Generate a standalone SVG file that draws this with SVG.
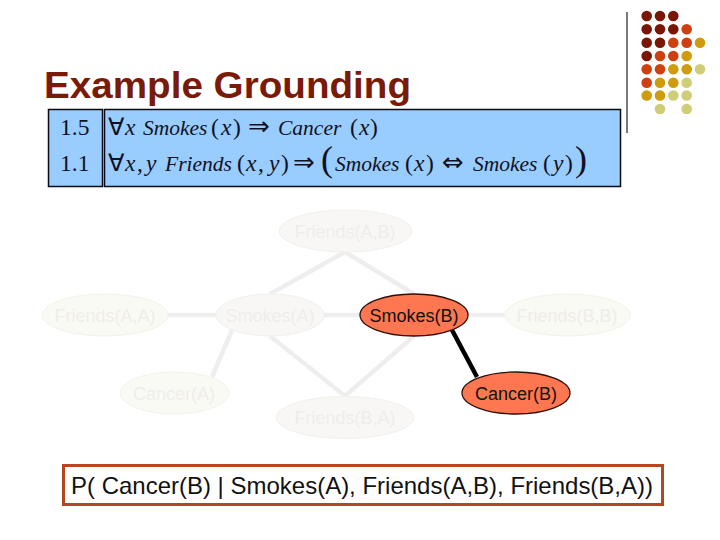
<svg xmlns="http://www.w3.org/2000/svg" width="720" height="540" viewBox="0 0 720 540">
<style>
.d1{fill:#7a1606}.d2{fill:#cf4010}.d3{fill:#cf9c10}.d4{fill:#cfcd78}
.box{fill:#99ccff;stroke:#0a0a14;stroke-width:1.5}
.m{font-family:"Liberation Serif",serif;font-size:23.5px;fill:#111122}
.i{font-style:italic}
.w{font-style:italic;font-size:21.5px}
.a{font-family:"DejaVu Sans",sans-serif;font-size:26px}
.n{font-family:"Liberation Sans",Arial,sans-serif;font-size:18px;text-anchor:middle}
.faint ellipse{fill:#f8f7f5;stroke:#f2f0ec;stroke-width:1}
.faint2 ellipse{fill:#fafaf5;stroke:#f3f2ea;stroke-width:1}
.faint text,.faint2 text{fill:#efedea}
.hot ellipse{fill:#ff7750;stroke:#301008;stroke-width:1.3}
.hot text{fill:#111}
.e{stroke:#eeeeee;stroke-width:4.5;fill:none}
</style>
<g id="decoration">
<line x1="627" y1="12" x2="627" y2="133" stroke="#222" stroke-width="1.2"/>
<circle class="d1" cx="646.7" cy="16" r="5.3"/><circle class="d1" cx="660" cy="16" r="5.3"/><circle class="d1" cx="673.3" cy="16" r="5.3"/>
<circle class="d1" cx="646.7" cy="29.3" r="5.3"/><circle class="d1" cx="660" cy="29.3" r="5.3"/><circle class="d1" cx="673.3" cy="29.3" r="5.3"/><circle class="d2" cx="686.7" cy="29.3" r="5.3"/>
<circle class="d1" cx="646.7" cy="42.7" r="5.3"/><circle class="d1" cx="660" cy="42.7" r="5.3"/><circle class="d2" cx="673.3" cy="42.7" r="5.3"/><circle class="d2" cx="686.7" cy="42.7" r="5.3"/><circle class="d3" cx="700" cy="42.7" r="5.3"/>
<circle class="d1" cx="646.7" cy="56" r="5.3"/><circle class="d2" cx="660" cy="56" r="5.3"/><circle class="d2" cx="673.3" cy="56" r="5.3"/><circle class="d3" cx="686.7" cy="56" r="5.3"/>
<circle class="d2" cx="646.7" cy="69.3" r="5.3"/><circle class="d2" cx="660" cy="69.3" r="5.3"/><circle class="d3" cx="673.3" cy="69.3" r="5.3"/><circle class="d3" cx="686.7" cy="69.3" r="5.3"/><circle class="d4" cx="700" cy="69.3" r="5.3"/>
<circle class="d2" cx="646.7" cy="82.7" r="5.3"/><circle class="d3" cx="660" cy="82.7" r="5.3"/><circle class="d3" cx="673.3" cy="82.7" r="5.3"/><circle class="d4" cx="686.7" cy="82.7" r="5.3"/>
<circle class="d3" cx="646.7" cy="95.5" r="5.3"/><circle class="d3" cx="660" cy="95.5" r="5.3"/><circle class="d4" cx="673.3" cy="95.5" r="5.3"/><circle class="d4" cx="686.7" cy="95.5" r="5.3"/>
<circle class="d4" cx="660" cy="109" r="5.3"/><circle class="d4" cx="686.7" cy="109" r="5.3"/>
</g>
<text id="title" x="44" y="98" font-family="Liberation Sans,Arial,sans-serif" font-weight="bold" font-size="37" fill="#7a1a08" textLength="367" lengthAdjust="spacingAndGlyphs">Example Grounding</text>
<g id="formulas">
<rect class="box" x="48.5" y="109.5" width="54" height="77"/>
<rect class="box" x="104.5" y="109.5" width="516" height="77"/>
<text class="m" x="60" y="135">1.5</text>
<text class="m" x="60" y="171">1.1</text>
<text class="m" y="135"><tspan x="108">∀</tspan><tspan class="i" x="125">x</tspan><tspan class="w" x="143">Smokes</tspan><tspan x="211">(</tspan><tspan class="i" x="221">x</tspan><tspan x="233">)</tspan><tspan class="a" x="248">⇒</tspan><tspan class="w" x="278">Cancer</tspan><tspan x="350">(</tspan><tspan class="i" x="359">x</tspan><tspan x="370">)</tspan></text>
<text class="m" y="171"><tspan x="108">∀</tspan><tspan class="i" x="125">x</tspan><tspan x="137">,</tspan><tspan class="i" x="146">y</tspan><tspan class="w" x="165">Friends</tspan><tspan x="237">(</tspan><tspan class="i" x="246">x</tspan><tspan x="258">,</tspan><tspan class="i" x="269">y</tspan><tspan x="281">)</tspan><tspan class="a" x="293">⇒</tspan><tspan font-size="36" x="321">(</tspan><tspan class="w" x="335">Smokes</tspan><tspan x="405">(</tspan><tspan class="i" x="414">x</tspan><tspan x="426">)</tspan><tspan class="a" x="442">⇔</tspan><tspan class="w" x="473">Smokes</tspan><tspan x="543">(</tspan><tspan class="i" x="553">y</tspan><tspan x="565">)</tspan><tspan font-size="36" x="575">)</tspan></text>
</g>
<g id="connectors">
<line class="e" x1="345" y1="252" x2="270" y2="294"/>
<line class="e" x1="345" y1="252" x2="414" y2="294"/>
<line class="e" x1="168" y1="315" x2="216" y2="315"/>
<line class="e" x1="324" y1="315" x2="360" y2="315"/>
<line class="e" x1="232" y1="330" x2="212" y2="377"/>
<line class="e" x1="270" y1="336" x2="345" y2="396"/>
<line class="e" x1="345" y1="396" x2="414" y2="336"/>
<line class="e" x1="468" y1="315" x2="504" y2="315"/>
<line x1="452" y1="330" x2="477" y2="377" stroke="#000" stroke-width="4.5"/>
</g>
<g id="friends-ab" class="faint"><ellipse cx="345.5" cy="231" rx="66.5" ry="21"/><text class="n" x="345" y="238">Friends(A,B)</text></g>
<g id="friends-aa" class="faint2"><ellipse cx="105" cy="315" rx="63" ry="21"/><text class="n" x="105" y="322">Friends(A,A)</text></g>
<g id="smokes-a" class="faint"><ellipse cx="270" cy="315" rx="54" ry="21"/><text class="n" x="270" y="322">Smokes(A)</text></g>
<g id="smokes-b" class="hot"><ellipse cx="414" cy="315" rx="54" ry="21"/><text class="n" x="414" y="322">Smokes(B)</text></g>
<g id="friends-bb" class="faint2"><ellipse cx="567.5" cy="315" rx="63" ry="21"/><text class="n" x="567" y="322">Friends(B,B)</text></g>
<g id="cancer-a" class="faint2"><ellipse cx="174.5" cy="393" rx="54.5" ry="21"/><text class="n" x="174" y="400">Cancer(A)</text></g>
<g id="cancer-b" class="hot"><ellipse cx="516" cy="393" rx="54" ry="21"/><text class="n" x="516" y="400">Cancer(B)</text></g>
<g id="friends-ba" class="faint"><ellipse cx="345" cy="417.5" rx="69" ry="21"/><text class="n" x="345" y="424">Friends(B,A)</text></g>
<g id="query">
<rect x="63.5" y="465.5" width="599" height="39" fill="#fff" stroke="#b5471f" stroke-width="3"/>
<text x="71" y="494" font-family="Liberation Sans,Arial,sans-serif" font-size="24" fill="#111" textLength="582" lengthAdjust="spacingAndGlyphs">P( Cancer(B) | Smokes(A), Friends(A,B), Friends(B,A))</text>
</g>
</svg>
